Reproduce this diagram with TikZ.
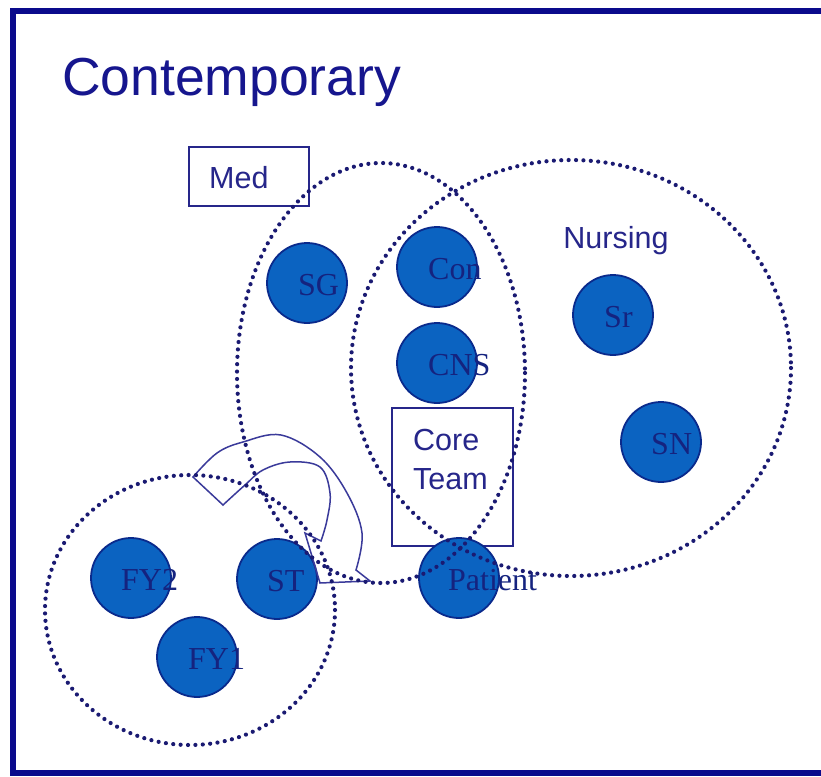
\documentclass[tikz,border=0pt]{standalone}
\usepackage{fontspec}
\setmainfont{Liberation Serif}
\newfontfamily\arialf{Liberation Sans}
\definecolor{framec}{HTML}{0A0A8C}
\definecolor{titlec}{HTML}{16168E}
\definecolor{dotc}{HTML}{1A1A72}
\definecolor{circfill}{HTML}{0B63C1}
\definecolor{circline}{HTML}{0A2A8C}
\definecolor{labc}{HTML}{15237F}
\definecolor{boxc}{HTML}{26268A}
\definecolor{arrc}{HTML}{3A3A9A}
\begin{document}
\begin{tikzpicture}[x=1pt,y=-1pt,
  dotring/.style={draw=dotc, line width=4.2pt, dash pattern=on 0pt off 7.4pt, line cap=round},
  member/.style={circle, fill=circfill, draw=circline, line width=1.8pt, minimum size=80pt, inner sep=0pt},
  memtext/.style={anchor=west, text=labc, inner sep=0pt, font=\fontsize{32}{32}\selectfont},
  tagbox/.style={draw=boxc, line width=1.8pt, inner sep=0pt},
  tagtext/.style={text=boxc, inner sep=0pt, font=\arialf\fontsize{30.5}{30.5}\selectfont},
  arrowshape/.style={draw=arrc, line width=1.5pt, line join=miter}]
\useasboundingbox (0,0) rectangle (821,776);
\fill[white] (0,0) rectangle (821,776);
% frame
\draw[framec, line width=6pt] (830,11) -- (13,11) -- (13,773) -- (830,773);
% title
\node[anchor=base west, text=titlec, inner sep=0pt, font=\arialf\fontsize{53.5}{53.5}\selectfont] (title) at (62,95) {Contemporary};
% boxes
\node[tagbox, minimum width=120pt, minimum height=59pt] (medbox) at (249,176.5) {};
\node[tagtext, anchor=base west] (medtext) at (209,188) {Med};
\node[tagbox, minimum width=121pt, minimum height=138pt] (corebox) at (452.5,477) {};
\node[tagtext, anchor=base west, align=left] (core1) at (413,450) {Core};
\node[tagtext, anchor=base west, align=left] (core2) at (413,489) {Team};
\node[tagtext, anchor=base] (nursing) at (616,248) {Nursing};
% members
\node[member] (SG) at (307,283) {};
\node[member] (Con) at (437,267) {};
\node[member] (CNS) at (437,363) {};
\node[member] (Sr) at (613,315) {};
\node[member] (SN) at (661,442) {};
\node[member] (FY2) at (131,578) {};
\node[member] (ST) at (277,579) {};
\node[member] (FY1) at (197,657) {};
\node[member] (Patient) at (459,578) {};
\node[memtext] at ([xshift=-9pt,yshift=-2pt]SG.center) {SG};
\node[memtext] at ([xshift=-9pt,yshift=-2pt]Con.center) {Con};
\node[memtext] at ([xshift=-9pt,yshift=-2pt]CNS.center) {CNS};
\node[memtext] at ([xshift=-9pt,yshift=-2pt]Sr.center) {Sr};
\node[memtext] at ([xshift=-10pt,yshift=-2pt]SN.center) {SN};
\node[memtext] at ([xshift=-10pt,yshift=-2pt]FY2.center) {FY2};
\node[memtext] at ([xshift=-10pt,yshift=-2pt]ST.center) {ST};
\node[memtext] at ([xshift=-9pt,yshift=-2pt]FY1.center) {FY1};
\node[memtext] at ([xshift=-11pt,yshift=-2pt]Patient.center) {Patient};
% curved arrow
\draw[arrowshape] plot[smooth, tension=0.6] coordinates {(193,477) (217,453) (243,442) (281,435) (320,457) (347,493) (362,533) (356,570)}
  -- (370,581) -- (320,583) -- (305,533)
  -- plot[smooth, tension=0.6] coordinates {(321,541) (327,520) (330,493) (320,467) (290,462) (263,470) (245,485) (223,505)}
  -- cycle;
% group rings
\draw[dotring] (381,373) ellipse [x radius=144, y radius=210];
\draw[dotring] (571,368) ellipse [x radius=220, y radius=208];
\draw[dotring] (190,610) ellipse [x radius=145, y radius=135];
\end{tikzpicture}
\end{document}
